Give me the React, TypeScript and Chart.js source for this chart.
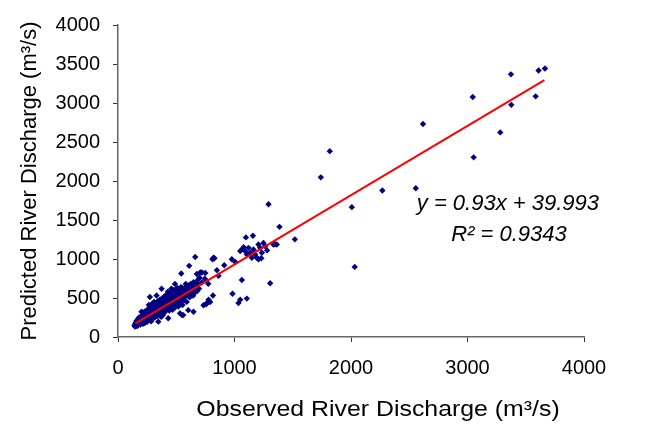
import React, { useEffect, useRef } from 'react';
import { Chart, registerables } from 'chart.js';

Chart.register(...registerables);

const FONT = '"Liberation Sans", Arial, sans-serif';

const xTitle = 'Observed River Discharge (m³/s)';
const yTitle = 'Predicted River Discharge (m³/s)';
const equationText = 'y = 0.93x + 39.993';
const r2Text = 'R² = 0.9343';

const xRange = [0, 4000];
const yRange = [0, 4000];
const xTickStep = 1000;
const yTickStep = 500;

// [observed, predicted] pairs
const highFlowPoints: [number, number][] = [
  [1292, 1702], [2007, 1665], [1386, 1412], [1518, 1252], [1098, 1277], [1158, 1299],
  [1349, 1189], [2032, 899], [1063, 731], [1306, 689], [1106, 492], [1818, 2383],
  [1741, 2047], [2269, 1879], [2556, 1908], [2618, 2731], [3045, 3077], [3373, 3367],
  [3610, 3417], [3665, 3443], [3585, 3085], [3376, 2976], [3281, 2623], [3053, 2303],
  [1034, 436], [1049, 479], [983, 555], [1363, 1185],
];

const midFlowPoints: [number, number][] = [
  [820, 1016], [912, 920], [849, 857], [977, 996], [1006, 962], [815, 533],
  [720, 827], [663, 1025], [828, 1010], [811, 996], [611, 912], [543, 815],
  [677, 807], [749, 820], [763, 436], [791, 449], [757, 420], [734, 407],
  [648, 323], [549, 281], [863, 786], [777, 479], [706, 827], [700, 760],
  [720, 700], [745, 748], [775, 683], [760, 720], [690, 740], [648, 701],
  [1063, 1122], [1092, 1101], [1120, 1143], [1135, 1080], [1163, 1122], [1177, 1059],
  [1206, 1185], [1220, 1143], [1235, 1080], [1249, 1206], [1263, 1164], [1192, 1016],
  [1206, 996], [1149, 1016], [1106, 1059], [1049, 1101], [1078, 1150], [1280, 1110],
  [1230, 1010], [1334, 1185],
];

const lowFlowPoints: [number, number][] = [
  [142, 150], [148, 165], [152, 140], [155, 180], [160, 158], [163, 195], [168, 172],
  [170, 150], [175, 210], [178, 185], [182, 165], [185, 230], [188, 200], [190, 178],
  [195, 215], [198, 245], [200, 190], [150, 175], [158, 205], [172, 230], [145, 135],
  [165, 140], [180, 250], [192, 160],
  [202, 323], [205, 235], [208, 210], [210, 260], [212, 190], [215, 280], [218, 240],
  [220, 205], [222, 300], [225, 255], [228, 225], [230, 180], [232, 285], [235, 330],
  [238, 250], [240, 215], [242, 275], [245, 300], [248, 230], [250, 195], [252, 290],
  [255, 265], [258, 340], [260, 240], [206, 280], [214, 170], [226, 320], [236, 200],
  [246, 260], [256, 215],
  [262, 300], [264, 370], [266, 255], [268, 320], [270, 225], [272, 280], [274, 512],
  [276, 340], [278, 300], [280, 250], [282, 400], [285, 310], [288, 270], [290, 350],
  [292, 230], [295, 430], [298, 290], [300, 330], [302, 265], [303, 407], [306, 370],
  [308, 280], [310, 450], [312, 310], [315, 250], [318, 380], [320, 340], [265, 410],
  [284, 200], [296, 360], [314, 280],
  [322, 290], [325, 430], [328, 360], [331, 533], [334, 320], [336, 390], [338, 270],
  [340, 350], [343, 460], [346, 197], [348, 320], [350, 400], [352, 370], [355, 300],
  [358, 440], [360, 340], [362, 480], [365, 390], [368, 310], [370, 420], [372, 260],
  [374, 618], [376, 370], [378, 450], [380, 330], [383, 410], [386, 500], [388, 350],
  [390, 300], [392, 430], [395, 390], [398, 520], [345, 390], [363, 270], [384, 280],
  [396, 330],
  [400, 370], [403, 450], [406, 420], [408, 330], [410, 490], [413, 390], [416, 540],
  [418, 350], [420, 440], [423, 470], [426, 400], [428, 580], [431, 240], [433, 370],
  [436, 500], [438, 440], [440, 340], [443, 460], [446, 410], [448, 560], [450, 480],
  [453, 370], [456, 450], [458, 620], [460, 400], [463, 510], [466, 460], [468, 350],
  [470, 540], [473, 430], [476, 490], [478, 600],
  [480, 420], [483, 520], [486, 460], [489, 681], [490, 380], [493, 510], [496, 440],
  [498, 580], [500, 470], [503, 540], [506, 420], [508, 630], [510, 500], [513, 450],
  [516, 560], [518, 390], [520, 530], [523, 470], [526, 600], [528, 440], [532, 303],
  [534, 550], [537, 500], [540, 640], [543, 460], [546, 570], [550, 520], [553, 410],
  [556, 600], [560, 281], [558, 490],
  [563, 540], [567, 580], [570, 470], [574, 630], [578, 520], [582, 680], [586, 560],
  [590, 450], [594, 600], [598, 530], [603, 344], [606, 660], [610, 570], [615, 510],
  [620, 620], [625, 680], [630, 560], [636, 600], [640, 660], [645, 530], [655, 610],
  [660, 570], [666, 700], [672, 630], [680, 590], [688, 670], [696, 620], [534, 596],
  [550, 630], [585, 640], [620, 580], [590, 650], [560, 620],
];

const trendObserved = [150, 3660];
const trendPredicted = [176, 3292];

const equationAnchor = [3347, 1706];
const r2Anchor = [3356, 1303];
const xTitleCenterValue = 2232;

const toXY = (pairs: [number, number][]) => pairs.map(([x, y]) => ({ x, y }));

const annotationPlugin = {
  id: 'regressionText',
  afterDatasetsDraw(chart: any) {
    const { ctx, scales } = chart;
    ctx.save();
    ctx.fillStyle = '#000000';
    ctx.textAlign = 'center';
    ctx.textBaseline = 'middle';
    ctx.font = `italic 22px ${FONT}`;
    ctx.fillText(
      equationText,
      scales.x.getPixelForValue(equationAnchor[0]),
      scales.y.getPixelForValue(equationAnchor[1])
    );
    ctx.fillText(
      r2Text,
      scales.x.getPixelForValue(r2Anchor[0]),
      scales.y.getPixelForValue(r2Anchor[1])
    );
    ctx.restore();
  },
};

// x-axis title, drawn slightly wide and off-centre as in the original
const xTitlePlugin = {
  id: 'xAxisTitle',
  afterDraw(chart: any) {
    const { ctx, scales } = chart;
    const cx = scales.x.getPixelForValue(xTitleCenterValue);
    const cy = scales.x.bottom - 15;
    ctx.save();
    ctx.translate(cx, cy);
    ctx.scale(1.13, 1);
    ctx.fillStyle = '#000000';
    ctx.textAlign = 'center';
    ctx.textBaseline = 'middle';
    ctx.font = `22px ${FONT}`;
    ctx.fillText(xTitle, 0, 0);
    ctx.restore();
  },
};

const plainTick = (v: any) => String(v);

export default function App() {
  const canvasRef = useRef<HTMLCanvasElement | null>(null);

  useEffect(() => {
    document.body.style.margin = '0';
    const canvas = canvasRef.current;
    if (!canvas) return;
    const allPoints = [...highFlowPoints, ...midFlowPoints, ...lowFlowPoints];
    const chart = new Chart(canvas, {
      type: 'scatter',
      data: {
        datasets: [
          {
            type: 'line',
            label: 'Trend',
            data: trendObserved.map((x, i) => ({ x, y: trendPredicted[i] })),
            borderColor: '#FF0000',
            borderWidth: 2,
            pointRadius: 0,
            fill: false,
            showLine: true,
          } as any,
          {
            label: 'Discharge',
            data: toXY(allPoints),
            pointStyle: 'rectRot',
            pointRadius: 3.2,
            pointBackgroundColor: '#000080',
            pointBorderColor: '#000080',
            pointBorderWidth: 0,
          },
        ],
      },
      options: {
        responsive: false,
        animation: false,
        devicePixelRatio: 1,
        layout: { padding: { top: 20, right: 64, left: 0, bottom: 0 } },
        plugins: {
          legend: { display: false },
          tooltip: { enabled: false },
        },
        scales: {
          x: {
            type: 'linear',
            min: xRange[0],
            max: xRange[1],
            afterFit: (s: any) => {
              s.height = 88;
            },
            ticks: {
              stepSize: xTickStep,
              color: '#000000',
              padding: 14,
              font: { family: FONT, size: 20 },
              callback: plainTick,
            },
            grid: {
              drawOnChartArea: false,
              drawTicks: true,
              tickLength: 5,
              color: '#333333',
            },
            border: { display: true, color: '#666666', width: 1.5 },
            title: { display: false, text: xTitle },
          },
          y: {
            type: 'linear',
            min: yRange[0],
            max: yRange[1],
            afterFit: (s: any) => {
              s.width = 118;
            },
            ticks: {
              stepSize: yTickStep,
              color: '#000000',
              padding: 13,
              font: { family: FONT, size: 20 },
              callback: plainTick,
            },
            grid: {
              drawOnChartArea: false,
              drawTicks: true,
              tickLength: 5,
              color: '#333333',
            },
            border: { display: true, color: '#666666', width: 1.5 },
            title: {
              display: true,
              text: yTitle,
              color: '#000000',
              font: { family: FONT, size: 22 },
              padding: { top: 17, bottom: 0 },
            },
          },
        },
      },
      plugins: [annotationPlugin, xTitlePlugin],
    });
    return () => chart.destroy();
  }, []);

  return (
    <div style={{ position: 'fixed', left: 0, top: 0, width: 648, height: 425, background: '#ffffff' }}>
      <canvas ref={canvasRef} width={648} height={425} style={{ display: 'block' }} />
    </div>
  );
}
